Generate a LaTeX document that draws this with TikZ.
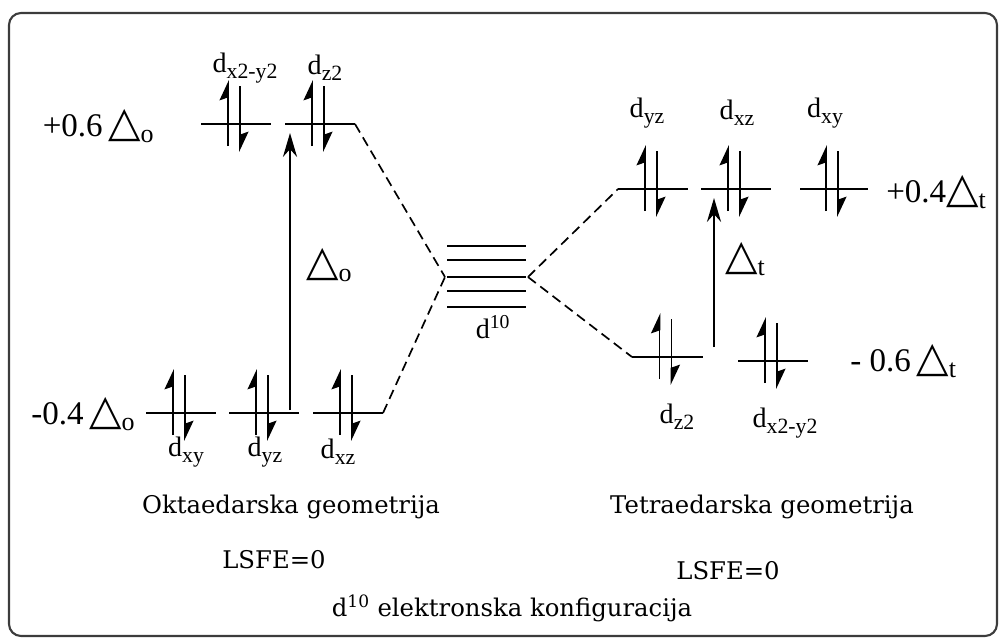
\documentclass[tikz,border=0pt]{standalone}
\usepackage{fontspec}
\setmainfont{Liberation Serif}
\newfontfamily\symfont{DejaVu Sans}
\newfontfamily\capfont{DejaVu Serif}
\usetikzlibrary{arrows.meta}

\definecolor{framegray}{RGB}{60,60,60}
\newcommand{\tri}{{\symfont\fontsize{30}{30}\selectfont △}}
\newcommand{\esub}[1]{\raisebox{-0.45ex}{\fontsize{18.5}{18}\selectfont #1}}
\newcommand{\dsub}[1]{\raisebox{-0.45ex}{\fontsize{15.5}{16}\selectfont #1}}

\tikzset{
  lvl/.style={line width=1.2pt},
  link/.style={line width=1.2pt, dash pattern=on 7pt off 4pt},
  elup/.style={line width=1.3pt, -{Stealth[harpoon, length=13pt, width=12pt, inset=2pt]}},
  gap/.style={line width=1.4pt, -{Stealth[length=17pt, width=10pt]}},
  lbl/.style={font=\fontsize{20}{24}\selectfont, inner sep=0pt},
  nrg/.style={font=\fontsize{23.5}{26}\selectfont, inner sep=0pt},
  captxt/.style={font=\capfont\fontsize{17.3}{20}\selectfont, inner sep=0pt}
}

% name, x left, x right, y (pixel units)
\newcommand{\orbital}[4]{%
  \coordinate (#1-l) at (#2,#4);
  \coordinate (#1-r) at (#3,#4);
  \coordinate (#1) at ({(#2+#3)/2},#4);
  \draw[lvl] (#1-l) -- (#1-r);
  \draw[elup] ([shift={(-8,22)}]#1) -- ++(0,-66);
  \draw[elup] ([shift={(4,-38)}]#1) -- ++(0,66);
}

\begin{document}
\begin{tikzpicture}[x=0.025cm, y=-0.025cm]
  \useasboundingbox (0,0) rectangle (1005,641);
  \draw[framegray, line width=1.5pt, rounded corners=0.3cm] (9,13) rectangle (997,636);

  % oktaedar
  \orbital{dxyo}{146}{216}{413}
  \orbital{dyzo}{229}{299}{413}
  \orbital{dxzo}{313}{383}{413}
  \orbital{dx2o}{201}{271}{124}
  \orbital{dz2o}{285}{355}{124}
  \node[lbl] (l-dx2o) at (245,68) {d\dsub{x2-y2}};
  \node[lbl] (l-dz2o) at (325,68) {d\dsub{z2}};
  \node[lbl] (l-dxyo) at (186,452) {d\dsub{xy}};
  \node[lbl] (l-dyzo) at (265,452) {d\dsub{yz}};
  \node[lbl] (l-dxzo) at (338,452) {d\dsub{xz}};
  \node[nrg, anchor=east] (e-upo) at (154,126) {+0.6\,\tri\esub{o}};
  \node[nrg, anchor=east] (e-lowo) at (135,414) {-0.4\,\tri\esub{o}};
  \coordinate (o-from) at (290,410);
  \coordinate (o-to) at (290,133);
  \draw[gap] (o-from) -- (o-to);
  \node[nrg] (delta-o) at (329,265) {\tri\esub{o}};

  % slobodni ion
  \foreach \y in {246,260,277,291,307}
    \draw[lvl] (447,\y) -- (526,\y);
  \coordinate (c-l) at (445,277);
  \coordinate (c-r) at (528,277);
  \node[lbl] (d10) at (493,327) {d\textsuperscript{10}};

  % tetraedar
  \orbital{dyzt}{618}{688}{189}
  \orbital{dxzt}{701}{771}{189}
  \orbital{dxyt}{800}{868}{189}
  \orbital{dz2t}{632}{703}{357}
  \orbital{dx2t}{738}{808}{361}
  \node[lbl] (l-dyzt) at (647,113) {d\dsub{yz}};
  \node[lbl] (l-dxzt) at (737,113) {d\dsub{xz}};
  \node[lbl] (l-dxyt) at (825,113) {d\dsub{xy}};
  \node[lbl] (l-dz2t) at (677,417) {d\dsub{z2}};
  \node[lbl] (l-dx2t) at (785,423) {d\dsub{x2-y2}};
  \node[nrg, anchor=west] (e-upt) at (886,192) {+0.4\tri\esub{t}};
  \node[nrg, anchor=west] (e-lowt) at (850,361) {- 0.6\,\tri\esub{t}};
  \coordinate (t-from) at (714,347);
  \coordinate (t-to) at (714,198);
  \draw[gap] (t-from) -- (t-to);
  \node[nrg] (delta-t) at (745,259) {\tri\esub{t}};

  % veze
  \draw[link] (dz2o-r) -- (c-l);
  \draw[link] (dxzo-r) -- (c-l);
  \draw[link] (c-r) -- (dyzt-l);
  \draw[link] (c-r) -- (dz2t-l);

  \node[captxt] (geo-o) at (291,507) {Oktaedarska geometrija};
  \node[captxt] (geo-t) at (762,507) {Tetraedarska geometrija};
  \node[captxt] (lsfe-o) at (274,560) {LSFE=0};
  \node[captxt] (lsfe-t) at (728,571) {LSFE=0};
  \node[captxt] (config) at (512,608) {d\textsuperscript{10} elektronska konfiguracija};
\end{tikzpicture}
\end{document}
